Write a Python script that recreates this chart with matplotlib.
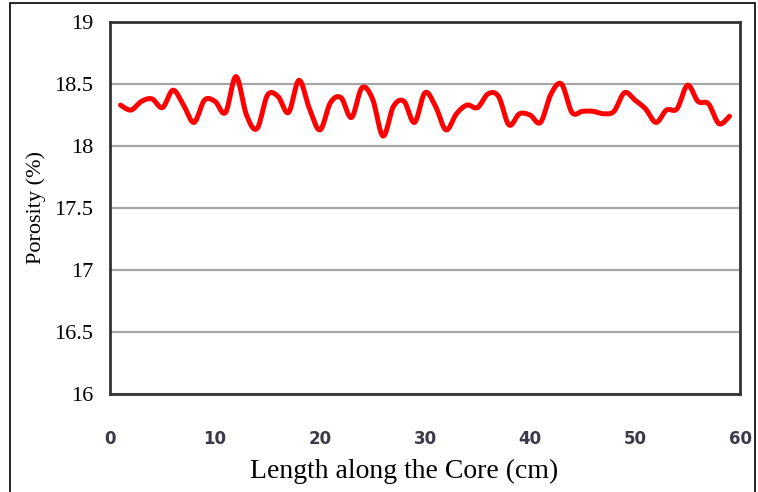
import numpy as np
import matplotlib
matplotlib.use('Agg')
import matplotlib.pyplot as plt
from matplotlib.patches import Rectangle

# Porosity readings along the core
length_cm = list(range(1, 60))
porosity = [18.33, 18.29, 18.36, 18.38, 18.31, 18.45, 18.33, 18.19, 18.37, 18.36,
            18.27, 18.56, 18.25, 18.14, 18.41, 18.40, 18.27, 18.53, 18.30, 18.13,
            18.35, 18.39, 18.23, 18.47, 18.38, 18.08, 18.32, 18.36, 18.19, 18.43,
            18.32, 18.13, 18.26, 18.33, 18.31, 18.42, 18.40, 18.17, 18.26, 18.25,
            18.19, 18.42, 18.50, 18.27, 18.28, 18.28, 18.26, 18.28, 18.43, 18.37,
            18.30, 18.19, 18.29, 18.30, 18.49, 18.36, 18.34, 18.18, 18.24]
y_ticks = [16, 16.5, 17, 17.5, 18, 18.5, 19]
x_ticks = [0, 10, 20, 30, 40, 50, 60]


def smooth(x, y, n=12):
    # Catmull-Rom curve through the points, like a spreadsheet "smoothed line"
    x = np.asarray(x, float)
    y = np.asarray(y, float)
    px = np.concatenate([[x[0]], x, [x[-1]]])
    py = np.concatenate([[y[0]], y, [y[-1]]])
    xs, ys = [], []
    t = np.linspace(0, 1, n, endpoint=False)
    for i in range(1, len(px) - 2):
        for arr, out in ((px, xs), (py, ys)):
            p0, p1, p2, p3 = arr[i - 1], arr[i], arr[i + 1], arr[i + 2]
            out.extend(0.5 * ((2 * p1) + (-p0 + p2) * t
                              + (2 * p0 - 5 * p1 + 4 * p2 - p3) * t ** 2
                              + (-p0 + 3 * p1 - 3 * p2 + p3) * t ** 3))
    xs.append(x[-1])
    ys.append(y[-1])
    return xs, ys


W, H = 758, 492
fig = plt.figure(figsize=(W / 100, H / 100), dpi=100)
ax = fig.add_axes([110 / W, 1 - 394 / H, 630 / W, 372 / H])

sx, sy = smooth(length_cm, porosity)
ax.plot(sx, sy, color='#ff0000', lw=3.6, solid_capstyle='round', zorder=3)

ax.set_xlim(0, 60)
ax.set_ylim(16, 19)
ax.set_xticks(x_ticks)
ax.set_yticks(y_ticks)
ax.set_yticklabels(['16', '16.5', '17', '17.5', '18', '18.5', '19'],
                   family='Liberation Serif', fontsize=16)
ax.set_xticklabels([str(v) for v in x_ticks], family='DejaVu Sans',
                   fontsize=12, fontweight='bold', color='#3a3a4a')
ax.tick_params(axis='y', length=0, pad=12)
ax.tick_params(axis='x', length=0, pad=26)
ax.grid(axis='y', color='#a6a6a6', lw=1.6)
ax.set_axisbelow(True)
for s in ax.spines.values():
    s.set_color('#333333')
    s.set_linewidth(2)

ax.set_xlabel('Length along the Core (cm)', family='Liberation Serif',
              fontsize=20, labelpad=9)
ax.xaxis.set_label_coords(0.467, -0.175)
ax.set_ylabel('Porosity (%)', family='Liberation Serif', fontsize=16,
              labelpad=6)

# outer border of the picture
fig.patches.append(Rectangle((10 / W, -0.05), (W - 13) / W, 1.05 - 3 / H,
                             transform=fig.transFigure, fill=False,
                             edgecolor='black', lw=1.2))

fig.savefig('out.png', dpi=100)
